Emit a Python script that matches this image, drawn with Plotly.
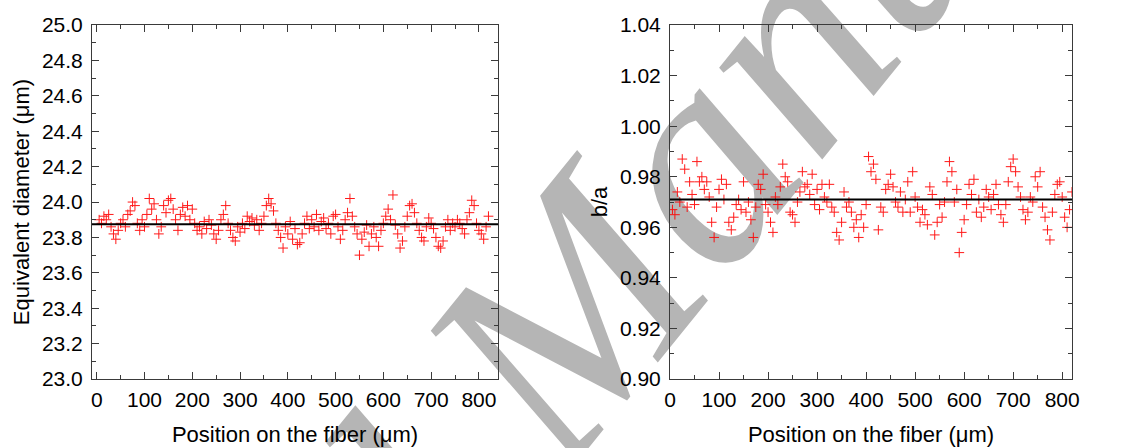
import plotly.graph_objects as go
from plotly.subplots import make_subplots

# sampling positions along the fibre (um)
positions = list(range(5, 825, 5))

diameter = [
    23.90, 23.88, 23.92, 23.90, 23.93, 23.86, 23.82, 23.79, 23.84, 23.88,
    23.90, 23.86, 23.93, 23.95, 24.00, 23.98, 23.88, 23.84, 23.90, 23.86,
    23.93, 24.02, 23.96, 23.99, 23.90, 23.82, 23.86, 23.98, 23.94, 24.01,
    24.02, 23.96, 23.90, 23.84, 23.93, 23.97, 23.92, 23.98, 23.90, 23.96,
    23.88, 23.84, 23.86, 23.82, 23.89, 23.85, 23.90, 23.87, 23.82, 23.79,
    23.84, 23.90, 23.93, 23.98, 23.88, 23.84, 23.80, 23.78, 23.86, 23.83,
    23.88, 23.85, 23.92, 23.89, 23.91, 23.87, 23.90, 23.84, 23.88, 23.92,
    23.98, 24.02, 23.99, 23.95, 23.88, 23.84, 23.80, 23.74, 23.86, 23.82,
    23.89, 23.79, 23.85, 23.76, 23.77, 23.82, 23.88, 23.92, 23.85, 23.90,
    23.86, 23.93, 23.84, 23.89, 23.91, 23.85, 23.88, 23.82, 23.92, 23.93,
    23.86, 23.79, 23.84, 23.90, 23.94, 24.02, 23.92, 23.86, 23.82, 23.70,
    23.79, 23.83, 23.87, 23.75, 23.82, 23.86, 23.80, 23.75, 23.84, 23.88,
    23.92, 23.96, 23.90, 24.04, 23.87, 23.82, 23.74, 23.78, 23.86, 23.92,
    23.98, 23.99, 23.94, 23.88, 23.84, 23.80, 23.78, 23.86, 23.91, 23.88,
    23.85, 23.80, 23.75, 23.74, 23.78, 23.86, 23.90, 23.84, 23.88, 23.86,
    23.90, 23.88, 23.85, 23.82, 23.90, 23.94, 24.01, 23.98, 23.88, 23.84,
    23.82, 23.79, 23.86, 23.92,
]

ratio = [
    0.967, 0.965, 0.974, 0.970, 0.987, 0.983, 0.968, 0.978, 0.973, 0.969,
    0.986, 0.978, 0.980, 0.975, 0.978, 0.972, 0.962, 0.956, 0.968, 0.975,
    0.979, 0.971, 0.977, 0.962, 0.959, 0.964, 0.969, 0.971, 0.967, 0.978,
    0.966, 0.970, 0.963, 0.956, 0.968, 0.977, 0.975, 0.981, 0.969, 0.966,
    0.962, 0.958, 0.972, 0.969, 0.976, 0.985, 0.980, 0.978, 0.966, 0.965,
    0.962, 0.970, 0.974, 0.982, 0.976, 0.977, 0.973, 0.981, 0.969, 0.975,
    0.967, 0.977, 0.972, 0.970, 0.977, 0.968, 0.966, 0.958, 0.955, 0.962,
    0.974, 0.968, 0.970, 0.966, 0.960, 0.963, 0.956, 0.965, 0.960, 0.969,
    0.988, 0.982, 0.985, 0.979, 0.959, 0.968, 0.966, 0.975, 0.977, 0.981,
    0.976, 0.970, 0.968, 0.974, 0.966, 0.971, 0.978, 0.966, 0.982, 0.972,
    0.968, 0.962, 0.967, 0.965, 0.961, 0.976, 0.973, 0.957, 0.962, 0.969,
    0.964, 0.970, 0.978, 0.986, 0.982, 0.970, 0.975, 0.950, 0.958, 0.963,
    0.969, 0.977, 0.973, 0.979, 0.966, 0.971, 0.964, 0.968, 0.975, 0.972,
    0.967, 0.973, 0.977, 0.969, 0.965, 0.962, 0.969, 0.978, 0.984, 0.987,
    0.982, 0.976, 0.972, 0.967, 0.963, 0.966, 0.972, 0.970, 0.980, 0.976,
    0.982, 0.968, 0.964, 0.959, 0.955, 0.966, 0.973, 0.977, 0.978, 0.972,
    0.964, 0.960, 0.967, 0.974,
]

diameter_mean = 23.875
ratio_mean = 0.971

font = "Liberation Sans, Arial, sans-serif"

fig = make_subplots(rows=1, cols=2)

marker = dict(symbol="cross-thin", size=7, color="red", line=dict(color="red", width=1))
fig.add_trace(go.Scatter(x=positions, y=diameter, mode="markers", marker=marker,
                         opacity=0.9, showlegend=False), row=1, col=1)
fig.add_trace(go.Scatter(x=positions, y=ratio, mode="markers", marker=marker,
                         opacity=0.9, showlegend=False), row=1, col=2)

fig.add_hline(y=diameter_mean, line=dict(color="black", width=2), row=1, col=1)
fig.add_hline(y=ratio_mean, line=dict(color="black", width=2), row=1, col=2)

ax = dict(showline=True, linecolor="#3a3a3a", linewidth=1, mirror="ticks",
          ticks="inside", ticklen=7, tickcolor="#3a3a3a", showgrid=False,
          zeroline=False, automargin=False,
          tickfont=dict(size=21, color="black", family=font))
title_font = dict(size=22, color="black", family=font)

fig.update_xaxes(ax, dtick=100, ticklabelstandoff=2,
                 minor=dict(ticks="inside", ticklen=4, dtick=50, tickcolor="#3a3a3a"),
                 title=dict(text="Position on the fiber (\u03bcm)", font=title_font, standoff=16))
fig.update_xaxes(range=[-10, 840], domain=[0.0816, 0.4419], row=1, col=1)
fig.update_xaxes(range=[0, 820], domain=[0.5945, 0.9512], row=1, col=2)

fig.update_yaxes(ax, domain=[0.154, 0.944], ticklabelstandoff=4)
fig.update_yaxes(range=[23.0, 25.0], dtick=0.2, tickformat=".1f",
                 minor=dict(ticks="inside", ticklen=4, dtick=0.1, tickcolor="#3a3a3a"),
                 title=dict(text="Equivalent diameter (\u03bcm)", font=title_font, standoff=6),
                 row=1, col=1)
fig.update_yaxes(range=[0.90, 1.04], dtick=0.02, tickformat=".2f",
                 minor=dict(ticks="inside", ticklen=4, dtick=0.01, tickcolor="#3a3a3a"),
                 title=dict(text="b/a", font=title_font, standoff=6),
                 row=1, col=2)

# "Accepted Manuscript" watermark, kept under the plot (shape label, layer below)
fig.add_shape(type="line", xref="paper", yref="paper",
              x0=0.4165, y0=0.231, x1=0.5165, y1=0.371, layer="below",
              line=dict(color="rgba(0,0,0,0)", width=1),
              label=dict(text="<i>Accepted Manuscript</i>", textposition="middle",
                         xanchor="center", yanchor="middle", textangle=-51,
                         font=dict(size=300, color="#b5b5b5", family="Liberation Serif, serif")))

fig.update_layout(width=1127, height=448, margin=dict(l=0, r=0, t=0, b=0),
                  plot_bgcolor="rgba(0,0,0,0)", paper_bgcolor="white",
                  font=dict(family=font, color="black"))

fig.write_html("out.html", config={"displayModeBar": False},
               post_script="document.body.style.margin='0';")
